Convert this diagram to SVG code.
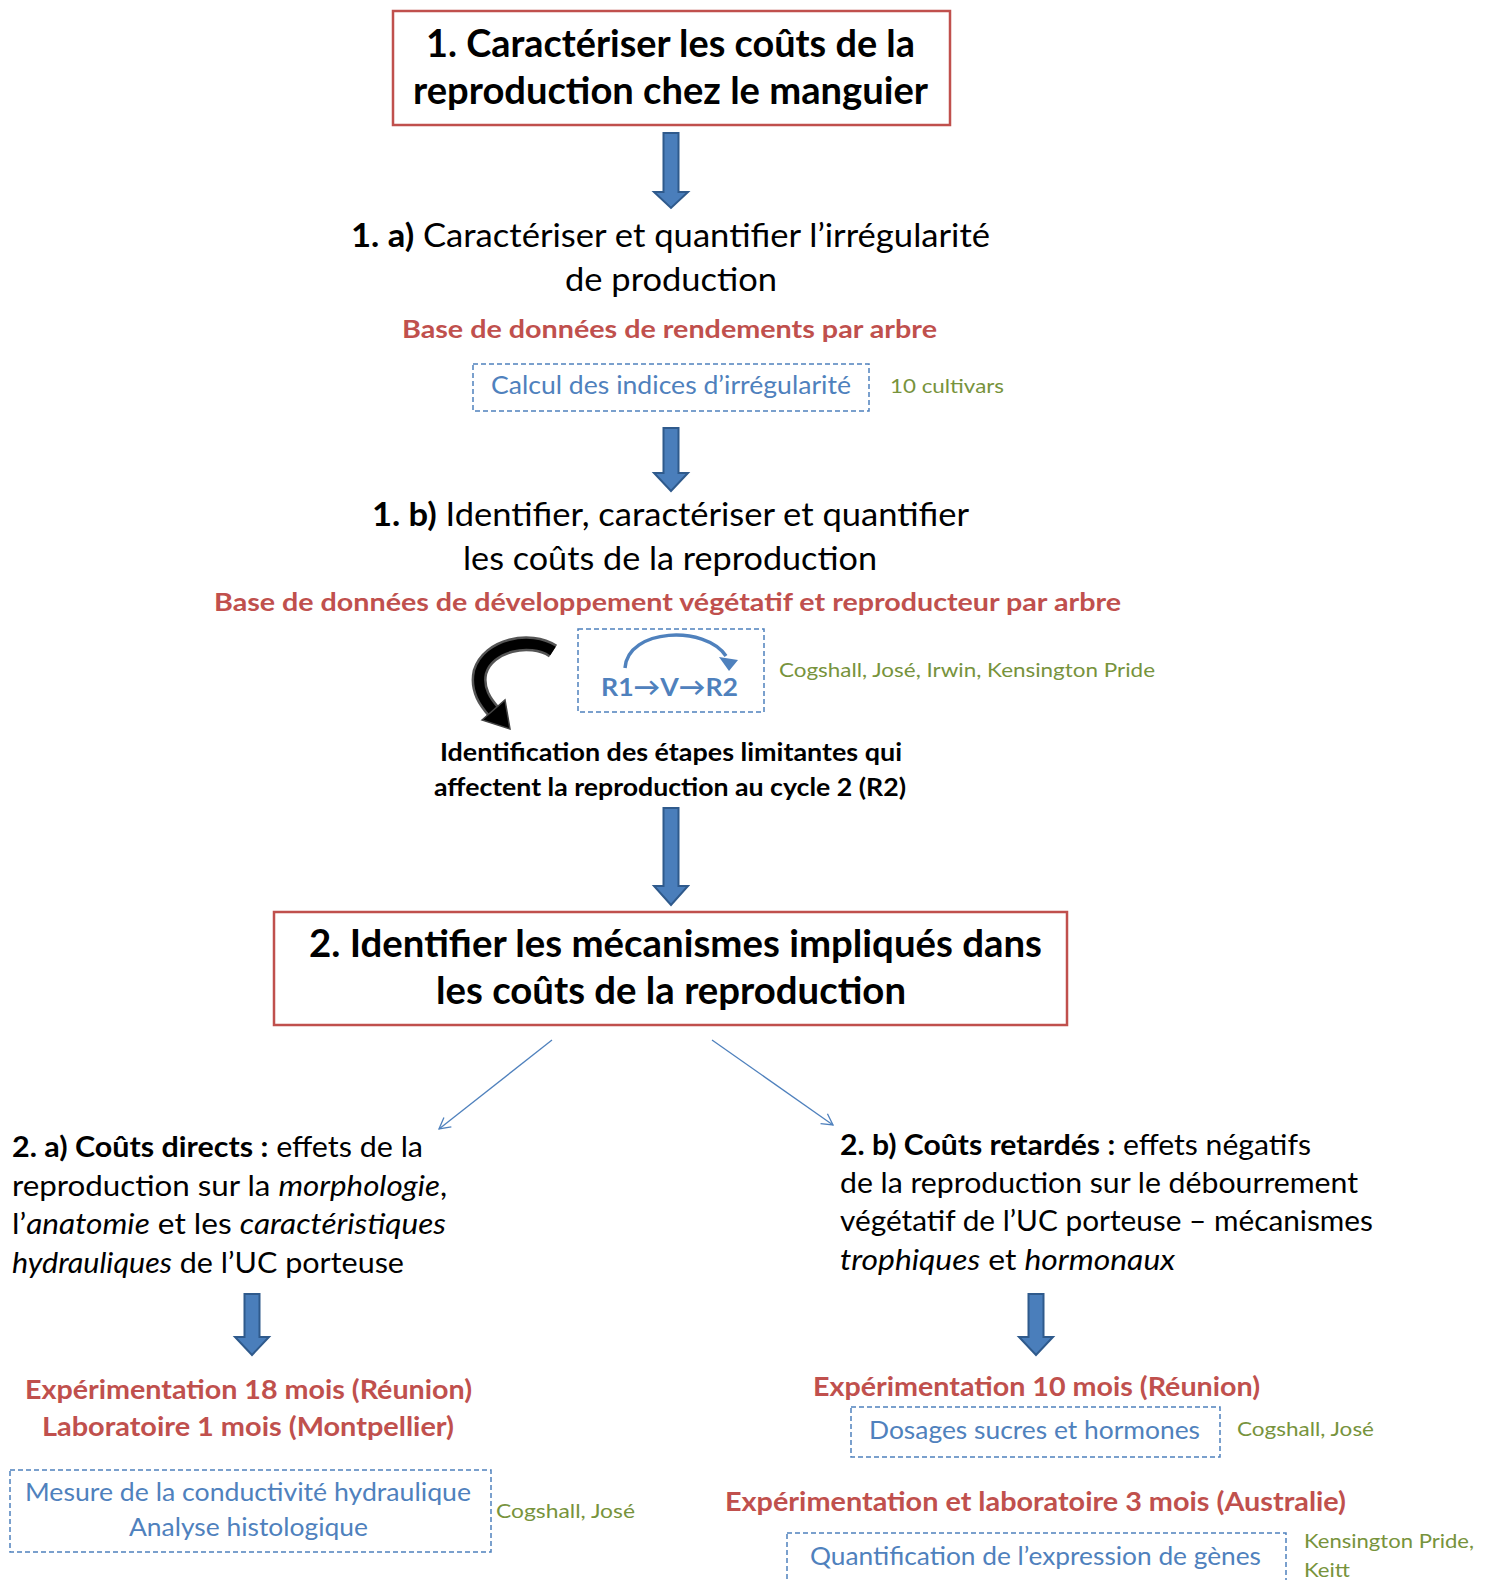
<svg xmlns="http://www.w3.org/2000/svg" width="1491" height="1580" viewBox="0 0 1491 1580">
<style>
text{font-family:Lato,"Liberation Sans",sans-serif;}
.title{font-size:38px;font-weight:bold;fill:#000;}
.h1{font-size:32px;fill:#000;}
.red{font-size:25px;font-weight:bold;fill:#C0504D;}
.redb{font-size:27px;font-weight:bold;fill:#C0504D;}
.blue{font-size:25px;fill:#4F81BD;}
.green{font-size:20px;fill:#77933C;}
.ident{font-size:24px;font-weight:bold;fill:#000;}
.body{font-size:28px;fill:#000;}
.b{font-weight:bold;}
.i{font-style:italic;}
.redbox{fill:#fff;stroke:#C0504D;stroke-width:2.5;}
.dash{fill:none;stroke:#4F81BD;stroke-width:1.5;stroke-dasharray:5 3;}
.barrow{fill:#4A7EBB;stroke:#2F5A8C;stroke-width:2;}
.thin{fill:none;stroke:#4F81BD;stroke-width:1.3;}
</style>
<defs>
<marker id="vhead" markerWidth="14" markerHeight="14" refX="12" refY="7" orient="auto" markerUnits="userSpaceOnUse">
<path d="M1,1 L12,7 L1,13" fill="none" stroke="#4F81BD" stroke-width="1.3"/>
</marker>
<marker id="bhead" markerWidth="14" markerHeight="14" refX="7" refY="7" orient="auto" markerUnits="userSpaceOnUse">
<path d="M1,1 L13,7 L1,13 Z" fill="#4F81BD"/>
</marker>
</defs>

<g id="connectors">
<polygon class="barrow" points="663.5,133 678.5,133 678.5,192 688,192 671,208 654,192 663.5,192"/>
<polygon class="barrow" points="663.5,428 678.5,428 678.5,473 688,473 671,491 654,473 663.5,473"/>
<polygon class="barrow" points="663.5,808 678.5,808 678.5,886 688,886 671,905 654,886 663.5,886"/>
<polygon class="barrow" points="244.5,1294 259.5,1294 259.5,1337 269,1337 252,1355 235,1337 244.5,1337"/>
<polygon class="barrow" points="1028.5,1294 1043.5,1294 1043.5,1337 1053,1337 1036,1355 1019,1337 1028.5,1337"/>
<line class="thin" x1="552" y1="1040" x2="439" y2="1129" marker-end="url(#vhead)"/>
<line class="thin" x1="712" y1="1040" x2="833" y2="1125" marker-end="url(#vhead)"/>
<g id="black-curve">
<path d="M553,651 C530,636 488,645 480,672 C476,690 486,703 494,712" fill="none" stroke="#555" stroke-width="15" stroke-linecap="butt"/>
<path d="M553,651 C530,636 488,645 480,672 C476,690 486,703 494,712" fill="none" stroke="#000" stroke-width="10" stroke-linecap="butt"/>
<polygon points="482,720 505,700 510,729" fill="#000" stroke="#444" stroke-width="1.5"/>
</g>
</g>

<g id="node-title1">
<rect class="redbox" x="393" y="11" width="557" height="114"/>
<text class="title" x="426" y="57" textLength="489" lengthAdjust="spacingAndGlyphs">1. Caractériser les coûts de la</text>
<text class="title" x="413" y="104" textLength="515" lengthAdjust="spacingAndGlyphs">reproduction chez le manguier</text>
</g>

<g id="node-1a">
<text class="h1" x="351" y="247" textLength="639" lengthAdjust="spacingAndGlyphs"><tspan class="b">1. a)</tspan> Caractériser et quantifier l’irrégularité</text>
<text class="h1" x="565" y="291" textLength="212" lengthAdjust="spacingAndGlyphs">de production</text>
<text class="red" x="402" y="338" textLength="535" lengthAdjust="spacingAndGlyphs">Base de données de rendements par arbre</text>
</g>

<g id="node-calcul">
<rect class="dash" x="473" y="364" width="396" height="47"/>
<text class="blue" x="491" y="394" textLength="360" lengthAdjust="spacingAndGlyphs">Calcul des indices d’irrégularité</text>
<text class="green" x="890" y="393" textLength="114" lengthAdjust="spacingAndGlyphs">10 cultivars</text>
</g>

<g id="node-1b">
<text class="h1" x="372" y="526" textLength="597" lengthAdjust="spacingAndGlyphs"><tspan class="b">1. b)</tspan> Identifier, caractériser et quantifier</text>
<text class="h1" x="463" y="570" textLength="414" lengthAdjust="spacingAndGlyphs">les coûts de la reproduction</text>
<text class="red" x="214" y="611" textLength="907" lengthAdjust="spacingAndGlyphs">Base de données de développement végétatif et reproducteur par arbre</text>
</g>

<g id="node-cycle">
<rect class="dash" x="578" y="629" width="186" height="83"/>
<path d="M625,668 C628,628 705,625 726,656" fill="none" stroke="#4F81BD" stroke-width="3.5"/>
<polygon points="719,657 738,660 729,671" fill="#4F81BD"/>
<text x="601" y="696" font-size="25" font-weight="bold" fill="#4F81BD" textLength="137" lengthAdjust="spacingAndGlyphs">R1→V→R2</text>
<text class="green" x="779" y="677" textLength="376" lengthAdjust="spacingAndGlyphs">Cogshall, José, Irwin, Kensington Pride</text>
</g>

<g id="node-ident">
<text class="ident" x="440" y="761" textLength="462" lengthAdjust="spacingAndGlyphs">Identification des étapes limitantes qui</text>
<text class="ident" x="434" y="796" textLength="472" lengthAdjust="spacingAndGlyphs">affectent la reproduction au cycle 2 (R2)</text>
</g>

<g id="node-title2">
<rect class="redbox" x="274" y="912" width="793" height="113"/>
<text class="title" x="309" y="957" textLength="733" lengthAdjust="spacingAndGlyphs">2. Identifier les mécanismes impliqués dans</text>
<text class="title" x="436" y="1004" textLength="470" lengthAdjust="spacingAndGlyphs">les coûts de la reproduction</text>
</g>

<g id="node-2a">
<text class="body" x="12" y="1157" textLength="411" lengthAdjust="spacingAndGlyphs"><tspan class="b">2. a) Coûts directs :</tspan> effets de la</text>
<text class="body" x="12" y="1196" textLength="435" lengthAdjust="spacingAndGlyphs">reproduction sur la <tspan class="i">morphologie</tspan>,</text>
<text class="body" x="12" y="1234" textLength="434" lengthAdjust="spacingAndGlyphs">l’<tspan class="i">anatomie</tspan> et les <tspan class="i">caractéristiques</tspan></text>
<text class="body" x="12" y="1273" textLength="392" lengthAdjust="spacingAndGlyphs"><tspan class="i">hydrauliques</tspan> de l’UC porteuse</text>
<text class="redb" x="25" y="1399" textLength="447" lengthAdjust="spacingAndGlyphs">Expérimentation 18 mois (Réunion)</text>
<text class="redb" x="42" y="1436" textLength="412" lengthAdjust="spacingAndGlyphs">Laboratoire 1 mois (Montpellier)</text>
</g>

<g id="node-hydrau">
<rect class="dash" x="10" y="1470" width="481" height="82"/>
<text class="blue" x="25" y="1501" font-size="27" textLength="446" lengthAdjust="spacingAndGlyphs">Mesure de la conductivité hydraulique</text>
<text class="blue" x="129" y="1536" font-size="27" textLength="239" lengthAdjust="spacingAndGlyphs">Analyse histologique</text>
<text class="green" x="496" y="1518" textLength="139" lengthAdjust="spacingAndGlyphs">Cogshall, José</text>
</g>

<g id="node-2b">
<text class="body" x="840" y="1155" textLength="471" lengthAdjust="spacingAndGlyphs"><tspan class="b">2. b) Coûts retardés :</tspan> effets négatifs</text>
<text class="body" x="840" y="1193" textLength="518" lengthAdjust="spacingAndGlyphs">de la reproduction sur le débourrement</text>
<text class="body" x="840" y="1231" textLength="533" lengthAdjust="spacingAndGlyphs">végétatif de l’UC porteuse – mécanismes</text>
<text class="body" x="840" y="1270" textLength="335" lengthAdjust="spacingAndGlyphs"><tspan class="i">trophiques</tspan> et <tspan class="i">hormonaux</tspan></text>
<text class="redb" x="813" y="1396" textLength="447" lengthAdjust="spacingAndGlyphs">Expérimentation 10 mois (Réunion)</text>
</g>

<g id="node-dosages">
<rect class="dash" x="851" y="1407" width="369" height="50"/>
<text class="blue" x="869" y="1439" font-size="27" textLength="331" lengthAdjust="spacingAndGlyphs">Dosages sucres et hormones</text>
<text class="green" x="1237" y="1436" textLength="137" lengthAdjust="spacingAndGlyphs">Cogshall, José</text>
</g>

<g id="node-australie">
<text class="redb" x="725" y="1511" textLength="621" lengthAdjust="spacingAndGlyphs">Expérimentation et laboratoire 3 mois (Australie)</text>
</g>

<g id="node-genes">
<rect class="dash" x="787" y="1533" width="499" height="60"/>
<text class="blue" x="810" y="1565" font-size="27" textLength="451" lengthAdjust="spacingAndGlyphs">Quantification de l’expression de gènes</text>
<text class="green" x="1304" y="1548" textLength="170" lengthAdjust="spacingAndGlyphs">Kensington Pride,</text>
<text class="green" x="1304" y="1577" textLength="46" lengthAdjust="spacingAndGlyphs">Keitt</text>
</g>
</svg>
